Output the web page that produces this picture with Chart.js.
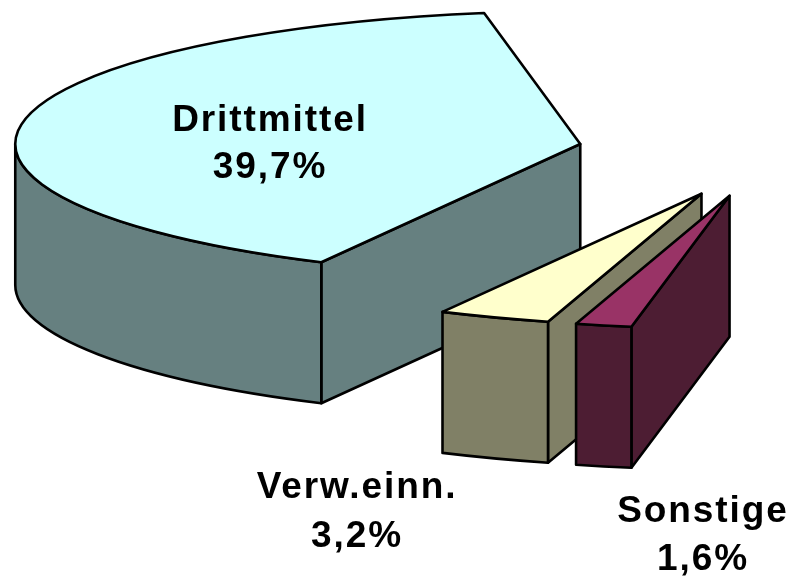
<!DOCTYPE html>
<html>
<head>
<meta charset="utf-8">
<title>Drittmittel</title>
<script src="https://cdn.jsdelivr.net/npm/chart.js@4"></script>
<style>
  html, body { margin: 0; padding: 0; background: #fff; }
  canvas { display: block; }
</style>
</head>
<body>
<canvas id="myChart" width="791" height="576"></canvas>
<script>
const ctx = document.getElementById("myChart");

// clockwise from the rotation angle; the last slice is the rest of the pie, not visible
const categories = ["Sonstige", "Verw.einn.", "Drittmittel", ""];
const shares = [1.6, 3.2, 39.7, 55.5];
const topColors = ["#993366", "#FFFFCC", "#CCFFFF", "transparent"];
const wallColors = ["#4D1D33", "#808066", "#668080", "transparent"];

const TILT = 0.2354;      // height of the ellipse / width
const DEPTH = 141;        // height of the walls
const EXPLODE = 195;      // how far the slices are pulled out
const PAINT_ORDER = [2, 1, 0];

// line positions of the texts: [center x, baseline of name, baseline of percent]
const labelPlaces = {
  Drittmittel: [270, 131, 178],
  "Verw.einn.": [357, 498, 547],
  Sonstige: [703, 522, 570],
};

function drawSlice(c, arc, top, wall) {
  const start = arc.startAngle;
  const end = arc.endAngle;
  const r = arc.outerRadius;
  const mid = (start + end) / 2;
  const x = arc.x + Math.cos(mid) * EXPLODE;
  const y = arc.y + Math.sin(mid) * EXPLODE * TILT;

  c.lineWidth = 2.6;
  c.lineJoin = "round";
  c.strokeStyle = "#000";
  c.fillStyle = wall;

  // side wall on the start edge, always faces us here
  const sx = x + Math.cos(start) * r;
  const sy = y + Math.sin(start) * r * TILT;
  c.beginPath();
  c.moveTo(x, y);
  c.lineTo(sx, sy);
  c.lineTo(sx, sy + DEPTH);
  c.lineTo(x, y + DEPTH);
  c.closePath();
  c.fill();
  c.stroke();

  // round outer wall, only the part in front
  const a0 = Math.max(start, 0);
  const a1 = Math.min(end, Math.PI);
  if (a1 > a0) {
    c.beginPath();
    c.ellipse(x, y, r, r * TILT, 0, a0, a1);
    c.lineTo(x + Math.cos(a1) * r, y + Math.sin(a1) * r * TILT + DEPTH);
    c.ellipse(x, y + DEPTH, r, r * TILT, 0, a1, a0, true);
    c.closePath();
    c.fill();
    c.stroke();
  }

  // top
  c.fillStyle = top;
  c.beginPath();
  c.moveTo(x, y);
  c.ellipse(x, y, r, r * TILT, 0, start, end);
  c.closePath();
  c.fill();
  c.stroke();
}

const pie3d = {
  id: "pie3d",
  beforeDatasetsDraw(chart) {
    const c = chart.ctx;
    const arcs = chart.getDatasetMeta(0).data;
    c.save();
    PAINT_ORDER.forEach((i) => drawSlice(c, arcs[i], topColors[i], wallColors[i]));
    c.restore();
    return false;
  },
  afterDraw(chart) {
    const c = chart.ctx;
    c.save();
    c.fillStyle = "#000";
    c.font = "bold 37px 'Liberation Sans'";
    c.letterSpacing = "1.9px";
    c.textAlign = "center";
    categories.forEach((name, i) => {
      const place = labelPlaces[name];
      if (!place) return;
      c.fillText(name, place[0], place[1]);
      c.fillText(shares[i].toFixed(1).replace(".", ",") + "%", place[0], place[2]);
    });
    c.restore();
  },
};

new Chart(ctx, {
  type: "pie",
  data: {
    labels: categories,
    datasets: [{ data: shares, backgroundColor: topColors, borderWidth: 0 }],
  },
  options: {
    responsive: false,
    animation: false,
    rotation: 190,
    radius: 565,
    // puts the center of the pie where it sits in the picture
    layout: { padding: { left: 755, right: 0, top: 0, bottom: 274 } },
    plugins: { legend: { display: false }, tooltip: { enabled: false }, title: { display: false } },
  },
  plugins: [pie3d],
});
</script>
</body>
</html>
